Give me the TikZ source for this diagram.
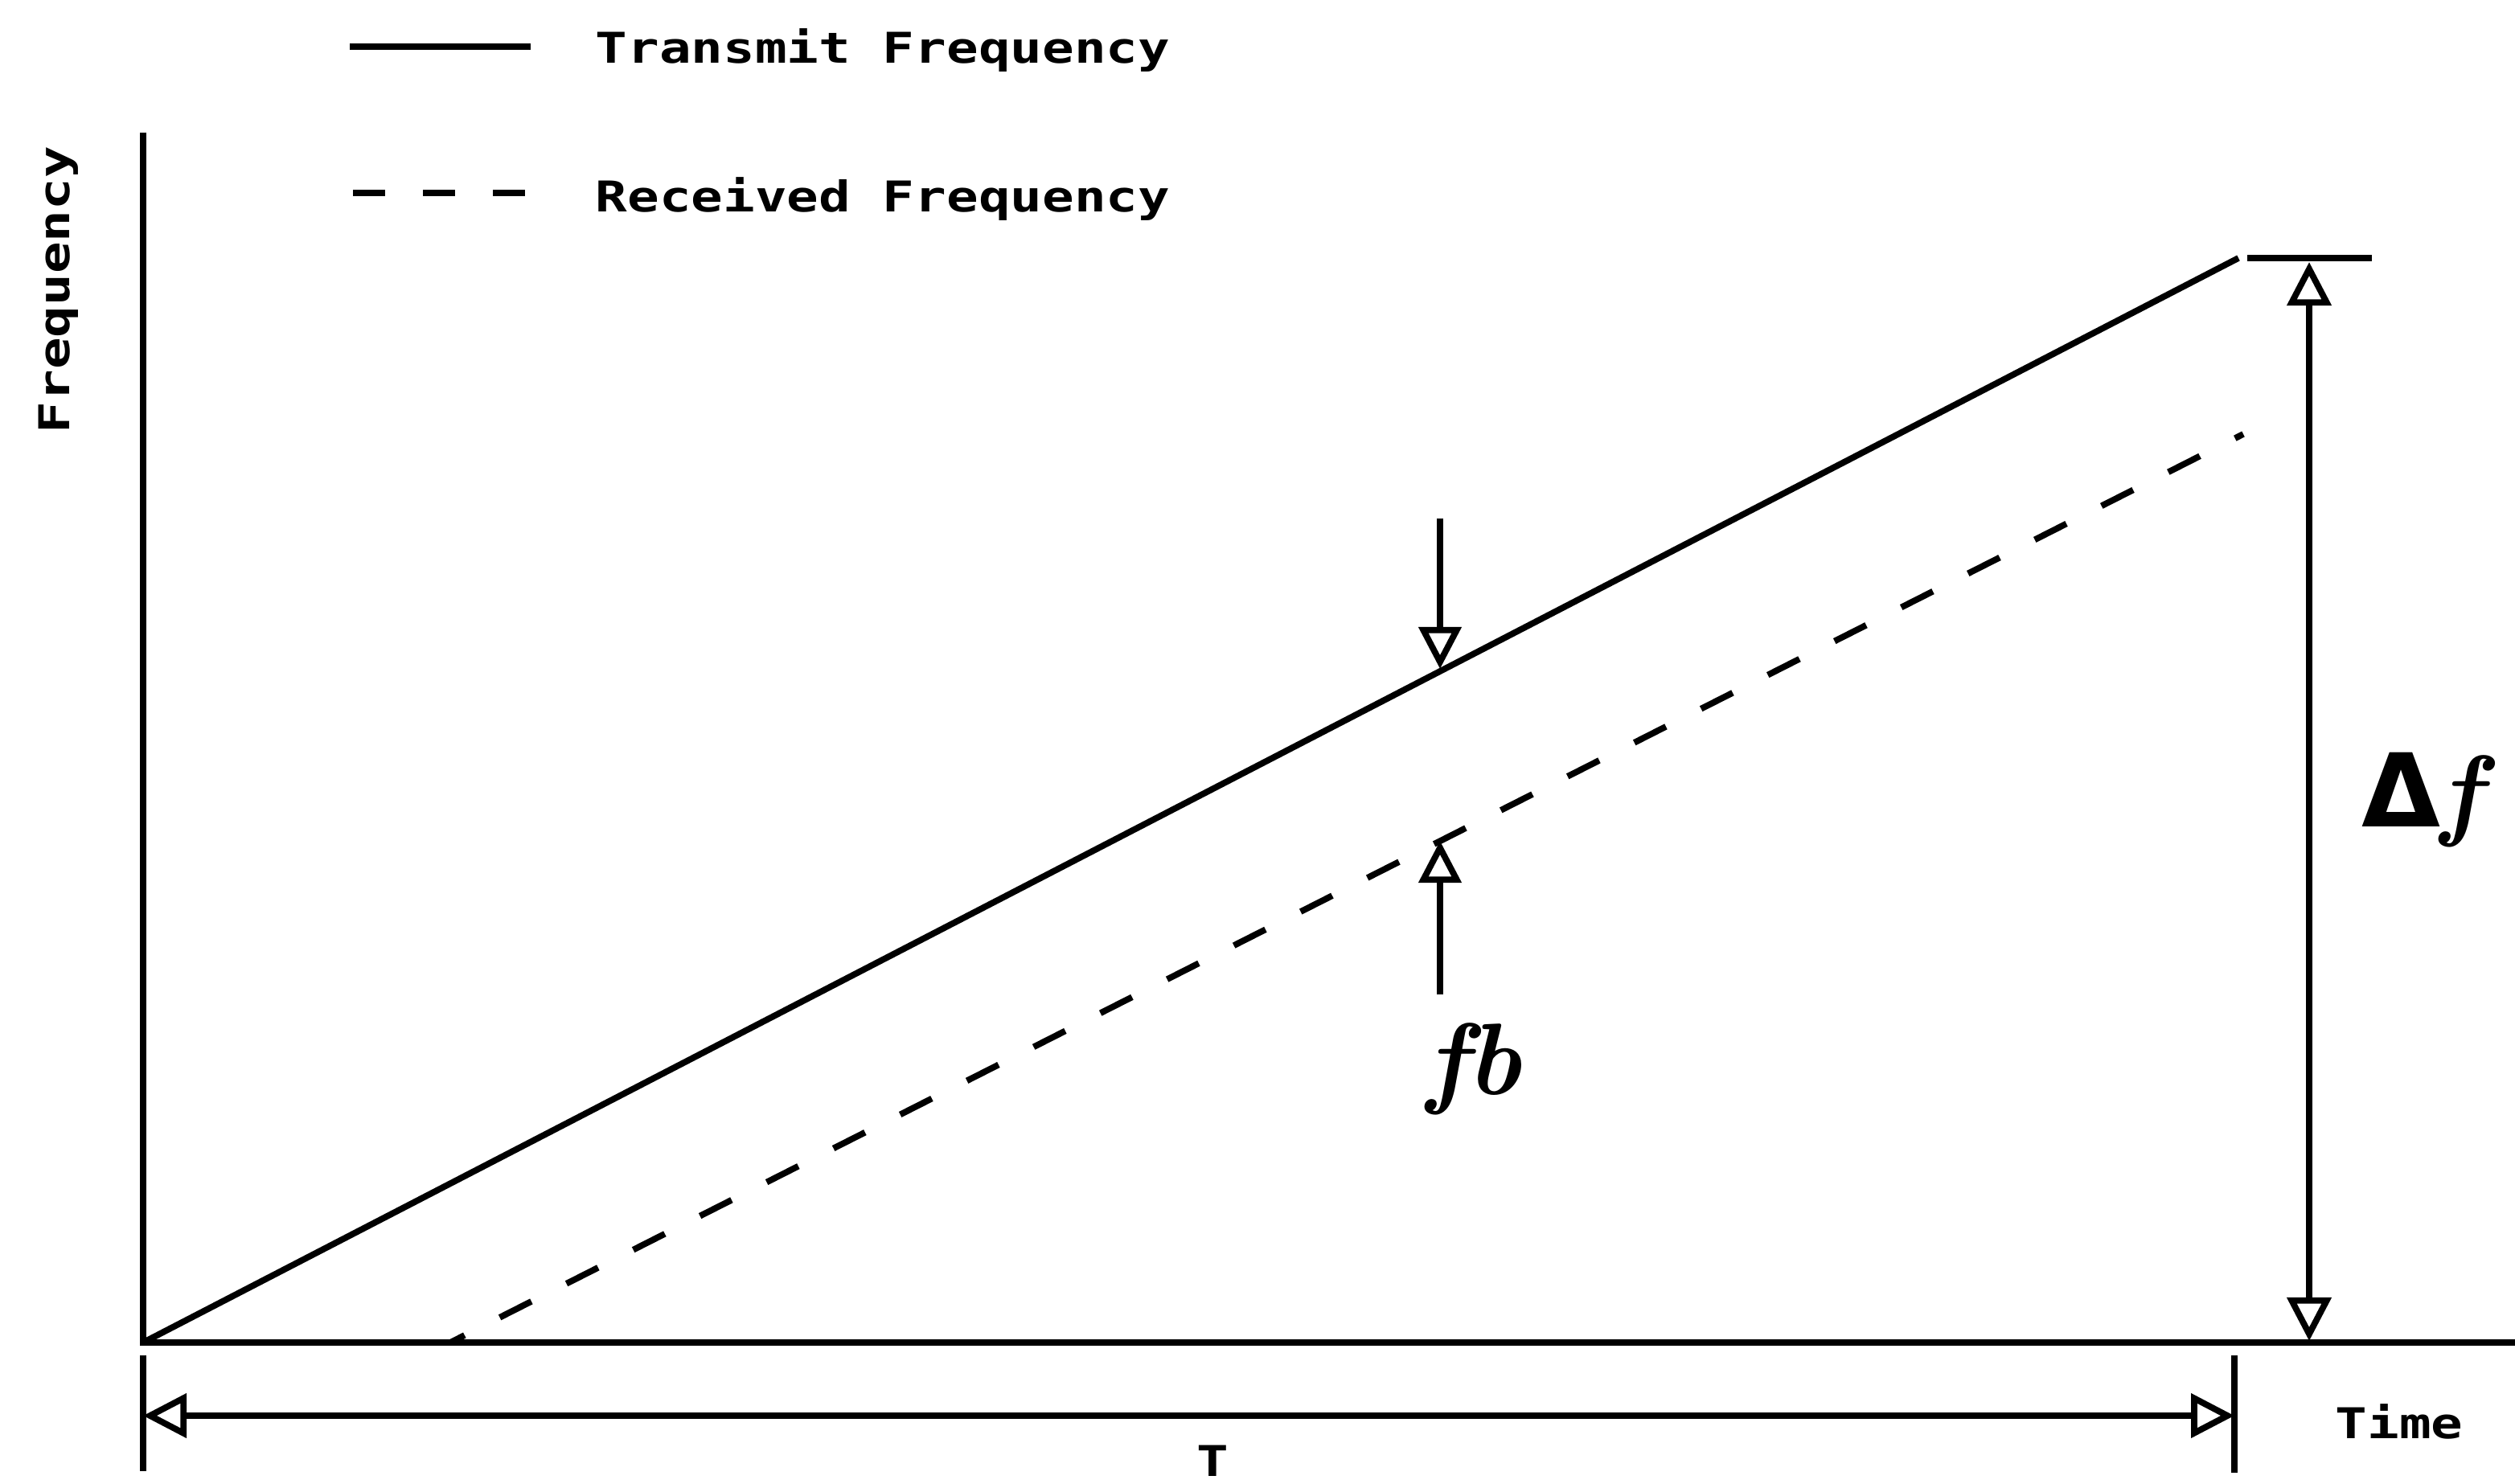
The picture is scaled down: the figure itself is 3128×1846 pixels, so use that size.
\documentclass[tikz,border=0pt]{standalone}
\usepackage{fontspec}
\newfontfamily\plotfont[FakeStretch=1.25]{DejaVu Sans Mono}
\newfontfamily\greekfont{DejaVu Sans}
\usetikzlibrary{arrows.meta}
\begin{document}
\begin{tikzpicture}[x=0.01cm,y=-0.01cm,
  thickline/.style={line width=2.2pt},
  recdash/.style={line width=2.2pt, dash pattern=on 0.44cm off 0.49cm, dash phase=0.24cm},
  opentip/.style={-{Triangle[open,length=0.52cm,width=0.52cm]}},
  dimboth/.style={{Triangle[open,length=0.54cm,width=0.54cm]}-{Triangle[open,length=0.54cm,width=0.54cm]}},
  plotlabel/.style={font=\plotfont\bfseries\fontsize{15}{18}\selectfont, inner sep=0pt},
  handlabel/.style={font=\fontsize{36}{40}\selectfont\bfseries\itshape, inner sep=0pt}
]
\useasboundingbox (0,0) rectangle (3128,1846);
% key points
\coordinate (O) at (178,1670);
\coordinate (Ytop) at (178,165);
\coordinate (Xend) at (3128,1670);
\coordinate (Tend) at (2784,321);
\coordinate (Rstart) at (560,1670);
\coordinate (Rend) at (2790,540);
\coordinate (BarL) at (2795,321);
\coordinate (BarR) at (2950,321);
\coordinate (DFtop) at (2872,326);
\coordinate (DFbot) at (2872,1668);
\coordinate (TickLa) at (178,1686);
\coordinate (TickLb) at (178,1830);
\coordinate (TickRa) at (2779,1686);
\coordinate (TickRb) at (2779,1832);
\coordinate (TL) at (178,1761);
\coordinate (TR) at (2779,1761);
\coordinate (FBtop) at (1791,645);
\coordinate (FBtx) at (1791,832);
\coordinate (FBbot) at (1791,1237);
\coordinate (FBrx) at (1791,1046);
\coordinate (L1a) at (435,58);
\coordinate (L1b) at (660,58);
\coordinate (L2a) at (439,240);
\coordinate (L2b) at (653,240);
% legend
\draw[thickline] (L1a) -- (L1b);
\draw[thickline, dash pattern=on 0.40cm off 0.47cm] (L2a) -- (L2b);
\node[plotlabel, anchor=base west] (legT) at (740,79) {Transmit Frequency};
\node[plotlabel, anchor=base west] (legR) at (740,264) {Received Frequency};
% axes
\draw[thickline] (Ytop) -- (O) -- (Xend);
\node[plotlabel, rotate=90, anchor=base west] (ylab) at (86,540) {Frequency};
% transmit and received lines
\draw[thickline] (O) -- (Tend);
\draw[recdash] (Rstart) -- (Rend);
% top bar and delta f arrow
\draw[thickline] (BarL) -- (BarR);
\draw[thickline, dimboth] (DFtop) -- (DFbot);
\node[handlabel] (dflab) at (3012,995) {{\greekfont\upshape Δ}f};
% fb arrows
\draw[thickline, opentip] (FBtop) -- (FBtx);
\draw[thickline, opentip] (FBbot) -- (FBrx);
\node[handlabel] (fblab) at (1833,1330) {fb};
% T dimension
\draw[thickline] (TickLa) -- (TickLb);
\draw[thickline] (TickRa) -- (TickRb);
\draw[thickline, dimboth] (TL) -- (TR);
\node[plotlabel, anchor=base] (Tlab) at (1508,1836) {T};
\node[plotlabel, anchor=base west] (timelab) at (2904,1789) {Time};
\end{tikzpicture}
\end{document}
